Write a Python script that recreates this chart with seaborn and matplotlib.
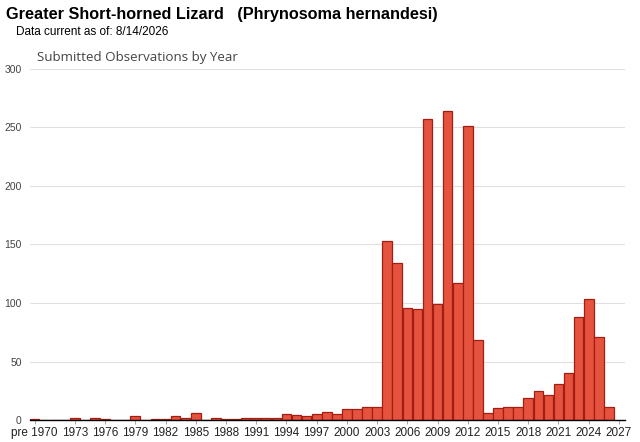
import pandas as pd
import matplotlib.pyplot as plt
import seaborn as sns

# categorias y valores
anios = ["pre 1970"] + [str(a) for a in range(1970, 2027)]
observaciones = [1,
                 0, 0, 0, 2, 0, 2, 1, 0, 0, 3,
                 0, 1, 1, 3, 2, 6, 0, 2, 1, 1,
                 2, 2, 2, 2, 5, 4, 3, 5, 7, 5,
                 9, 9, 11, 11, 153, 134, 96, 95, 257, 99,
                 264, 117, 251, 68, 6, 10, 11, 11, 19, 25,
                 21, 31, 40, 88, 103, 71, 11]
etiquetas_x = ["pre 1970"] + [str(a) for a in range(1973, 2028, 3)]
ticks_y = [0, 50, 100, 150, 200, 250, 300]

df = pd.DataFrame({"anio": anios, "obs": observaciones})

sns.set_style("white")
plt.rcParams['font.family'] = ['Liberation Sans', 'DejaVu Sans']

fig = plt.figure(figsize=(6.4, 4.42), dpi=100)
ax = fig.add_axes([30 / 640, 22 / 442, 595 / 640, 351 / 442])

sns.barplot(data=df, x="anio", y="obs", order=anios, color="#E5533F",
            saturation=1, width=0.96, edgecolor="#A31E10", linewidth=0.9, ax=ax)

# posiciones de las etiquetas del eje x
pos = [0] + [a - 1969 for a in range(1973, 2028, 3)]
ax.set_xticks(pos)
ax.set_xticklabels(etiquetas_x, fontsize=8.5, color="#222222")
ax.set_xlim(-0.45, 58.6)
ax.set_ylim(0, 300)
ax.set_yticks(ticks_y)
ax.set_yticklabels([str(t) for t in ticks_y], fontsize=7.5, color="#444444")
ax.tick_params(axis="y", length=0, pad=6)
ax.tick_params(axis="x", length=3, width=0.6, color="#999999", pad=2, bottom=True)
ax.set_xlabel("")
ax.set_ylabel("")
ax.grid(axis="y", color="#e0e0e0", linewidth=0.8)
ax.set_axisbelow(True)
for lado in ["top", "right", "left"]:
    ax.spines[lado].set_visible(False)
ax.spines["bottom"].set_color("black")
ax.spines["bottom"].set_linewidth(1)

fig.text(6 / 640, 1 - 15 / 442, "Greater Short-horned Lizard   (Phrynosoma hernandesi)",
         fontsize=11.7, fontweight="bold", va="center", ha="left", color="black")
fig.text(16 / 640, 1 - 32 / 442, "Data current as of: 8/14/2026",
         fontsize=8.5, va="center", ha="left", color="black")
fig.text(37 / 640, 1 - 58 / 442, "Submitted Observations by Year",
         fontsize=9.6, va="center", ha="left", color="#444444",
         family=["Open Sans", "DejaVu Sans"])

fig.savefig("out.png", dpi=100)
